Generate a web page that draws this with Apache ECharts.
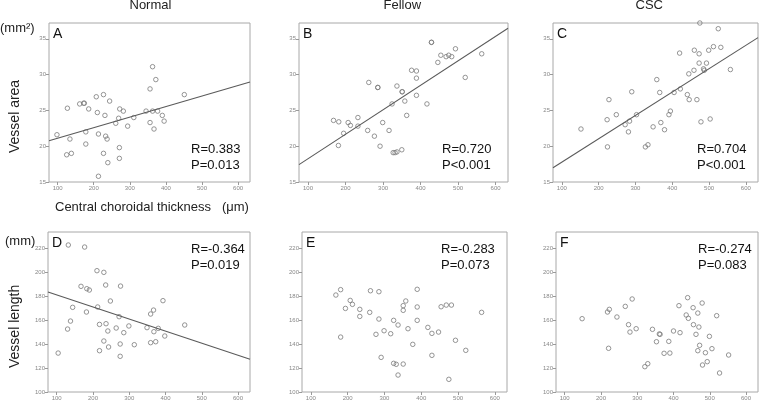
<!DOCTYPE html>
<html>
<head>
<meta charset="utf-8">
<script src="https://cdn.jsdelivr.net/npm/echarts@6/dist/echarts.min.js"></script>
<style>
  html, body { margin: 0; padding: 0; background: #fff; }
  #main { width: 760px; height: 402px; }
</style>
</head>
<body>
<div id="main"></div>
<script>
const groups = ['Normal', 'Fellow', 'CSC']
const letters = ['A', 'B', 'C', 'D', 'E', 'F']
const xTicks = [100, 200, 300, 400, 500, 600]
const areaTicks = [15, 20, 25, 30, 35]
const lengthTicks = [100, 120, 140, 160, 180, 200, 220]

// [central choroidal thickness, vessel area]
const normalArea = [
  [98, 21.6], [127, 25.3], [134, 21.0], [125, 18.8], [138, 19.0], [161, 25.9], [172, 26.0], [174, 26.0],
  [186, 25.2], [178, 22.0], [178, 20.3], [207, 26.9], [227, 27.2], [210, 24.7], [213, 21.7], [244, 26.3],
  [231, 24.3], [233, 21.4], [237, 21.0], [227, 19.0], [239, 17.7], [213, 15.8], [272, 25.2], [282, 24.9],
  [269, 23.9], [261, 23.2], [294, 22.8], [271, 19.8], [271, 18.3], [311, 24.0], [345, 24.9], [363, 24.9],
  [377, 24.9], [390, 24.3], [356, 23.3], [395, 23.5], [367, 22.4], [356, 28.0], [372, 29.3], [363, 31.1],
  [451, 27.2]
]
const fellowArea = [
  [168, 23.6], [182, 23.4], [181, 20.1], [195, 21.8], [207, 23.3], [213, 22.9], [233, 24.0], [233, 22.8],
  [259, 22.2], [277, 21.4], [292, 20.0], [299, 23.3], [262, 28.9], [286, 28.2], [286, 28.2], [316, 22.2],
  [324, 25.9], [327, 19.1], [332, 19.1], [337, 19.2], [350, 19.5], [337, 28.4], [351, 27.6], [351, 27.6],
  [358, 26.3], [363, 24.3], [376, 30.6], [389, 30.5], [389, 29.5], [389, 27.1], [417, 25.9], [429, 34.5],
  [429, 34.5], [446, 31.7], [454, 32.7], [468, 32.5], [475, 32.7], [483, 32.5], [493, 33.6], [519, 29.6],
  [563, 32.9]
]
const cscArea = [
  [152, 22.4], [223, 23.7], [228, 26.5], [224, 19.9], [248, 24.4], [272, 23.0], [284, 23.5], [281, 22.0],
  [290, 27.6], [303, 24.4], [327, 19.9], [334, 20.2], [348, 22.7], [358, 29.3], [366, 27.5], [369, 23.3],
  [379, 22.3], [391, 24.4], [395, 24.9], [405, 27.5], [422, 28.0], [420, 33.0], [441, 27.2], [446, 26.5],
  [445, 30.1], [459, 30.6], [460, 33.4], [473, 32.9], [473, 31.6], [467, 26.5], [478, 23.4], [475, 37.2],
  [485, 30.8], [487, 30.6], [493, 31.6], [499, 33.4], [503, 23.8], [512, 33.9], [525, 36.4], [532, 33.8],
  [558, 30.7]
]

// [central choroidal thickness, vessel length]
const normalLength = [
  [132, 223.1], [177, 221.4], [211, 201.6], [230, 200.2], [167, 188.5], [183, 186.5], [190, 185.4], [235, 189.6],
  [276, 188.7], [144, 170.9], [213, 171.2], [182, 167.0], [138, 159.4], [130, 152.7], [248, 176.2], [104, 132.6],
  [218, 156.6], [236, 157.2], [272, 163.1], [264, 153.6], [299, 155.3], [241, 151.1], [285, 149.7], [230, 142.7],
  [243, 137.7], [218, 134.6], [275, 140.2], [275, 129.9], [314, 139.6], [349, 153.9], [359, 165.3], [367, 168.6],
  [393, 176.5], [380, 153.3], [368, 150.5], [373, 142.1], [359, 141.3], [398, 146.9], [453, 156.1]
]
const fellowLength = [
  [168, 181.2], [181, 185.7], [194, 170.0], [207, 176.7], [213, 173.4], [181, 146.0], [233, 169.2], [233, 163.3],
  [260, 166.7], [262, 184.8], [285, 184.0], [285, 161.1], [277, 148.3], [299, 151.3], [317, 148.8], [291, 129.0],
  [325, 160.0], [337, 156.1], [325, 124.0], [332, 123.2], [351, 123.4], [337, 114.2], [364, 153.0], [351, 168.4],
  [351, 172.3], [358, 176.2], [389, 186.0], [389, 171.2], [389, 160.0], [377, 139.9], [418, 154.1], [429, 149.1],
  [447, 150.2], [429, 130.7], [454, 171.4], [468, 172.8], [482, 172.8], [493, 143.3], [521, 134.9], [475, 110.6],
  [564, 166.7]
]
const cscLength = [
  [148, 161.4], [218, 167.0], [223, 169.2], [221, 136.6], [244, 162.8], [267, 171.7], [286, 177.9], [276, 156.4],
  [280, 150.2], [297, 153.0], [321, 121.2], [329, 123.7], [342, 152.5], [353, 142.1], [361, 148.6], [363, 148.3],
  [374, 132.4], [387, 142.4], [390, 132.6], [400, 151.1], [418, 149.7], [415, 172.3], [439, 179.0], [435, 164.5],
  [441, 161.7], [454, 170.6], [455, 156.4], [462, 148.3], [467, 166.1], [470, 154.4], [479, 174.5], [467, 134.6],
  [472, 139.1], [480, 122.6], [488, 132.9], [493, 125.4], [499, 146.6], [506, 136.3], [519, 163.9], [527, 115.9],
  [552, 131.0]
]

// regression lines as [intercept, slope]; null where no line is drawn
const fits = [[19.64, 0.01474], [14.83, 0.03418], [14.52, 0.0326], [191.4, -0.1011], null, null]
const statR = ['R=0.383', 'R=0.720', 'R=0.704', 'R=-0.364', 'R=-0.283', 'R=-0.274']
const statP = ['P=0.013', 'P<0.001', 'P<0.001', 'P=0.019', 'P=0.073', 'P=0.083']

const panels = [normalArea, fellowArea, cscArea, normalLength, fellowLength, cscLength]
const xMin = 76
const xMax = 633

const myChart = echarts.init(document.getElementById('main'))

// panel boxes (pixels)
const boxes = [
  { left: 49, top: 23, width: 201, height: 159 },
  { left: 299, top: 23, width: 209, height: 159 },
  { left: 553, top: 23, width: 205, height: 159 },
  { left: 48, top: 232, width: 202, height: 160 },
  { left: 302, top: 232, width: 205, height: 160 },
  { left: 556, top: 232, width: 202, height: 160 }
]
const labelX = [191, 442, 697, 191, 441, 698]

const tickFont = { fontSize: 6, color: '#888', fontFamily: 'Liberation Sans' }
const textFont = '13px "Liberation Sans", Arial, sans-serif'

const grid = boxes.map(b => ({
  left: b.left, top: b.top, width: b.width, height: b.height,
  show: true, borderColor: '#a8a8a8', borderWidth: 1, backgroundColor: 'transparent'
}))

const xAxis = boxes.map((b, i) => ({
  gridIndex: i, type: 'value', min: xMin, max: xMax,
  axisLine: { show: false },
  splitLine: { show: false },
  axisTick: { show: true, length: 3, lineStyle: { color: '#999' }, customValues: xTicks },
  axisLabel: { ...tickFont, margin: 3, customValues: xTicks }
}))

const yAxis = boxes.map((b, i) => {
  const ticks = i < 3 ? areaTicks : lengthTicks
  return {
    gridIndex: i, type: 'value',
    min: i < 3 ? 15 : 100,
    max: i < 3 ? 37.2 : 234,
    axisLine: { show: false },
    splitLine: { show: false },
    axisTick: { show: true, length: 3, lineStyle: { color: '#999' }, customValues: ticks },
    axisLabel: { ...tickFont, margin: 3, customValues: ticks }
  }
})

const series = []
panels.forEach((pts, i) => {
  series.push({
    type: 'scatter', xAxisIndex: i, yAxisIndex: i,
    symbol: 'circle', symbolSize: 4.5,
    itemStyle: { color: 'rgba(0,0,0,0)', borderColor: '#7a7a7a', borderWidth: 1 },
    data: pts
  })
  if (fits[i]) {
    const [a, b] = fits[i]
    series.push({
      type: 'line', xAxisIndex: i, yAxisIndex: i,
      symbol: 'none', silent: true,
      lineStyle: { color: '#5a5a5a', width: 1.1 },
      data: [[xMin, a + b * xMin], [xMax, a + b * xMax]]
    })
  }
})

const graphic = []
groups.forEach((g, i) => {
  const b = boxes[i]
  graphic.push({
    type: 'text', left: b.left + b.width / 2 - 20, top: -1,
    style: { text: g, font: textFont, fill: '#222' }
  })
})
boxes.forEach((b, i) => {
  graphic.push({
    type: 'text', left: b.left + 4, top: b.top + 4,
    style: { text: letters[i], font: '14px "Liberation Sans", Arial, sans-serif', fill: '#111' }
  })
  const rTop = i < 3 ? 141 : 241
  graphic.push({
    type: 'text', left: labelX[i], top: rTop,
    style: { text: statR[i] + '\n' + statP[i], font: textFont, lineHeight: 16, fill: '#111' }
  })
})
graphic.push(
  { type: 'text', left: 0, top: 22, style: { text: '(mm²)', font: textFont, fill: '#222' } },
  { type: 'text', left: 5, top: 235, style: { text: '(mm)', font: textFont, fill: '#222' } },
  { type: 'text', left: 55, top: 201, style: { text: 'Central choroidal thickness   (μm)', font: textFont, fill: '#222' } },
  { type: 'text', x: 8, y: 153, rotation: Math.PI / 2, style: { text: 'Vessel area', font: '14px "Liberation Sans", Arial, sans-serif', fill: '#222' } },
  { type: 'text', x: 8, y: 368, rotation: Math.PI / 2, style: { text: 'Vessel length', font: '14px "Liberation Sans", Arial, sans-serif', fill: '#222' } }
)

const option = {
  animation: false,
  grid,
  xAxis,
  yAxis,
  series,
  graphic
}
myChart.setOption(option)
</script>
</body>
</html>
